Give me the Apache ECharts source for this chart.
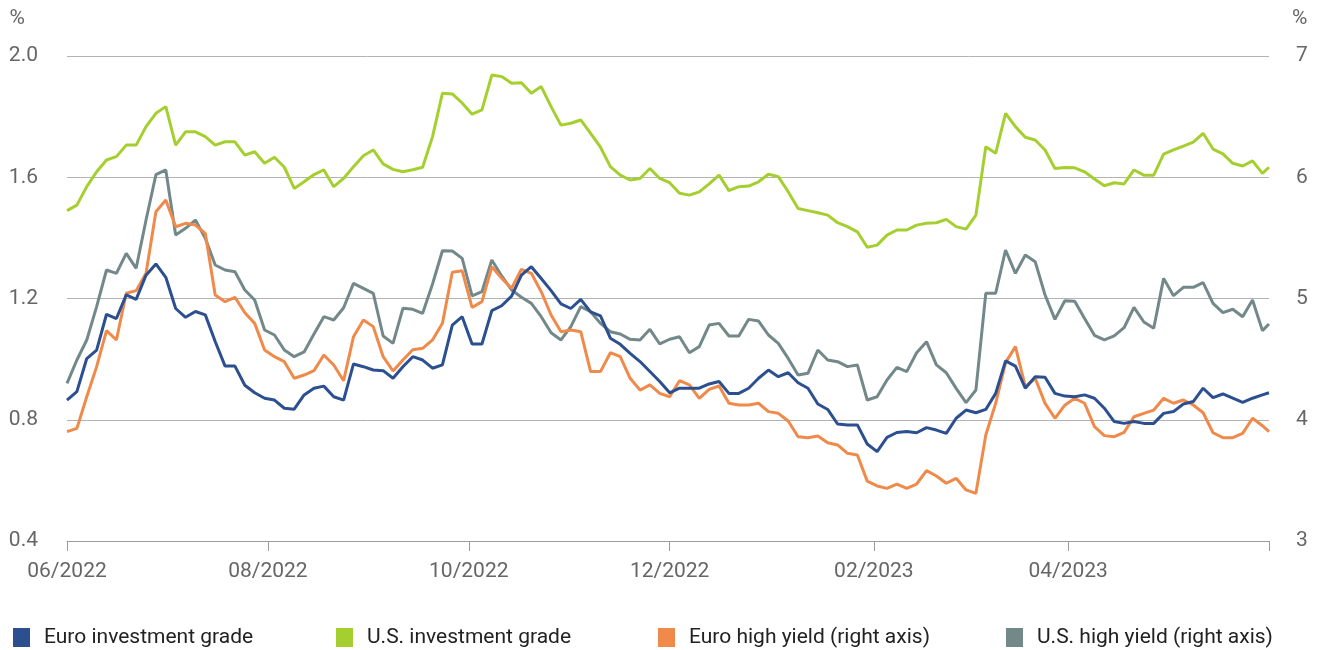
<!DOCTYPE html>
<html>
<head>
<meta charset="utf-8">
<title>Spreads</title>
<script src="https://cdn.jsdelivr.net/npm/echarts@6/dist/echarts.min.js"></script>
<style>
  *{
    margin: 0;
    padding: 0;
  }
  body{
    background: #fff;
  }
  #chart{
    width: 1318px;
    height: 650px;
  }
</style>
</head>
<body>
<div id="chart"></div>
<script>
  // series names (legend order)
  const names = ["Euro investment grade", "U.S. investment grade", "Euro high yield (right axis)", "U.S. high yield (right axis)"];

  // readings every 3 days from 06/01/2022, last one on 06/01/2023
  // left axis, %
  const euroIG = [0.865, 0.893, 1.002, 1.030, 1.148, 1.134, 1.212, 1.197, 1.277, 1.314, 1.270, 1.167, 1.138, 1.157, 1.146, 1.058, 0.977, 0.977, 0.914, 0.889, 0.871, 0.865,
    0.838, 0.835, 0.882, 0.904, 0.911, 0.876, 0.865, 0.984, 0.975, 0.964, 0.962, 0.937, 0.975, 1.008, 0.997, 0.970, 0.981, 1.112, 1.140, 1.050,
    1.050, 1.160, 1.176, 1.208, 1.277, 1.305, 1.266, 1.226, 1.182, 1.167, 1.197, 1.156, 1.143, 1.069, 1.049, 1.019, 0.992, 0.959, 0.926, 0.889,
    0.904, 0.904, 0.904, 0.918, 0.926, 0.887, 0.887, 0.904, 0.937, 0.964, 0.942, 0.955, 0.922, 0.904, 0.852, 0.834, 0.786, 0.783, 0.783, 0.720,
    0.695, 0.742, 0.758, 0.761, 0.757, 0.774, 0.766, 0.755, 0.805, 0.832, 0.823, 0.834, 0.887, 0.994, 0.977, 0.904, 0.942, 0.940, 0.887, 0.878, 0.876,
    0.882, 0.871, 0.838, 0.794, 0.788, 0.794, 0.788, 0.788, 0.821, 0.827, 0.852, 0.860, 0.904, 0.873, 0.885, 0.871, 0.857, 0.871, 0.882,
    0.889];
  const usIG = [1.490, 1.508, 1.569, 1.618, 1.657, 1.668, 1.706, 1.706, 1.767, 1.811, 1.833, 1.706, 1.750, 1.750, 1.734, 1.706, 1.717, 1.717, 1.673, 1.684, 1.646, 1.666,
    1.633, 1.563, 1.585, 1.609, 1.624, 1.569, 1.596, 1.635, 1.671, 1.690, 1.644, 1.626, 1.618, 1.625, 1.633, 1.734, 1.877, 1.875, 1.845, 1.808,
    1.822, 1.937, 1.932, 1.910, 1.912, 1.877, 1.899, 1.833, 1.772, 1.778, 1.789, 1.745, 1.699, 1.635, 1.607, 1.591, 1.596, 1.629, 1.596, 1.582,
    1.547, 1.541, 1.552, 1.578, 1.607, 1.556, 1.569, 1.571, 1.585, 1.610, 1.602, 1.552, 1.497, 1.490, 1.483, 1.475, 1.450, 1.437, 1.420, 1.369,
    1.376, 1.409, 1.426, 1.426, 1.442, 1.448, 1.450, 1.461, 1.437, 1.429, 1.475, 1.701, 1.679, 1.811, 1.767, 1.732, 1.723, 1.690, 1.629, 1.632, 1.631,
    1.618, 1.594, 1.572, 1.582, 1.578, 1.624, 1.607, 1.607, 1.676, 1.690, 1.703, 1.716, 1.745, 1.693, 1.677, 1.646, 1.637, 1.654, 1.613,
    1.633];
  // right axis, %
  const euroHY = [3.902, 3.929, 4.190, 4.438, 4.735, 4.658, 5.043, 5.065, 5.208, 5.716, 5.812, 5.592, 5.620, 5.606, 5.537, 5.029, 4.974, 5.010, 4.883, 4.795, 4.575, 4.520,
    4.479, 4.342, 4.369, 4.405, 4.534, 4.452, 4.322, 4.685, 4.823, 4.768, 4.520, 4.402, 4.493, 4.578, 4.589, 4.658, 4.795, 5.216, 5.228, 4.926,
    4.974, 5.262, 5.166, 5.084, 5.241, 5.208, 5.056, 4.864, 4.726, 4.740, 4.726, 4.397, 4.397, 4.553, 4.520, 4.342, 4.245, 4.287, 4.218, 4.190,
    4.322, 4.287, 4.177, 4.251, 4.278, 4.136, 4.122, 4.122, 4.136, 4.067, 4.053, 3.990, 3.860, 3.852, 3.866, 3.811, 3.792, 3.723, 3.709, 3.494,
    3.454, 3.434, 3.470, 3.434, 3.470, 3.580, 3.536, 3.476, 3.517, 3.421, 3.393, 3.874, 4.135, 4.471, 4.603, 4.273, 4.342, 4.135, 4.012, 4.120, 4.177,
    4.136, 3.943, 3.869, 3.860, 3.896, 4.025, 4.053, 4.080, 4.177, 4.136, 4.163, 4.122, 4.058, 3.893, 3.852, 3.852, 3.888, 4.012, 3.951,
    3.902];
  const usHY = [4.300, 4.493, 4.658, 4.933, 5.235, 5.207, 5.372, 5.249, 5.647, 6.021, 6.060, 5.524, 5.579, 5.647, 5.496, 5.276, 5.235, 5.221, 5.070, 4.988, 4.740, 4.699,
    4.575, 4.520, 4.559, 4.707, 4.850, 4.823, 4.924, 5.125, 5.084, 5.043, 4.691, 4.630, 4.919, 4.911, 4.878, 5.120, 5.394, 5.392, 5.331, 5.022,
    5.056, 5.318, 5.186, 5.070, 5.010, 4.960, 4.850, 4.718, 4.658, 4.768, 4.933, 4.891, 4.795, 4.726, 4.707, 4.663, 4.658, 4.746, 4.625, 4.664,
    4.685, 4.553, 4.603, 4.781, 4.795, 4.691, 4.691, 4.828, 4.814, 4.699, 4.630, 4.506, 4.369, 4.383, 4.575, 4.493, 4.479, 4.438, 4.452, 4.163,
    4.190, 4.328, 4.432, 4.397, 4.553, 4.644, 4.452, 4.388, 4.259, 4.141, 4.245, 5.043, 5.043, 5.400, 5.207, 5.359, 5.304, 5.029, 4.828, 4.981, 4.978,
    4.836, 4.696, 4.658, 4.691, 4.759, 4.927, 4.806, 4.754, 5.166, 5.023, 5.092, 5.092, 5.131, 4.960, 4.883, 4.911, 4.850, 4.988, 4.735,
    4.790];

  // tick months on the x axis (year, month index)
  const tickMonths = [[2022, 5], [2022, 7], [2022, 9], [2022, 11], [2023, 1], [2023, 3], [2023, 5]];
  const labelMonths = tickMonths.slice(0, 6);

  // x values: every 3 days, the last reading on 06/01/2023
  const dates = [];
  for (let i = 0; i < euroIG.length - 1; i++) {
    dates.push(new Date(2022, 5, 1 + 3 * i).getTime());
  }
  dates.push(new Date(2023, 5, 1).getTime());

  const toTime = m => new Date(m[0], m[1], 1).getTime();
  const pair = arr => arr.map((v, i) => [dates[i], v]);

  const colors = ["#2b4f8f", "#a5cf2f", "#ef8a4a", "#728889"];
  const legendLeft = [8, 331, 653, 1001];

  let chart = echarts.init(document.getElementById("chart"));

  chart.setOption({
    animation: false,
    textStyle: {
      fontFamily: "Roboto"
    },
    grid: {
      left: 67,
      right: 49,
      top: 56,
      bottom: 109
    },
    // one legend per item so each sits where it should
    legend: names.map((n, k) => ({
      data: [n],
      left: legendLeft[k],
      top: 622,
      icon: "rect",
      itemWidth: 17,
      itemHeight: 19,
      textStyle: {
        fontSize: 21,
        color: "#222",
        padding: [0, 0, 0, 9]
      }
    })),
    // timestamps on a value axis, so ticks can be put on chosen months
    xAxis: {
      type: "value",
      min: toTime(tickMonths[0]),
      max: toTime(tickMonths[tickMonths.length - 1]),
      axisLine: {
        lineStyle: { color: "#9c9c9c", width: 1 }
      },
      axisTick: {
        show: true,
        length: 10,
        customValues: tickMonths.map(toTime),
        lineStyle: { color: "#9c9c9c" }
      },
      axisLabel: {
        customValues: labelMonths.map(toTime),
        fontSize: 21,
        color: "#666",
        margin: 20,
        formatter: function (val) {
          const d = new Date(val);
          return String(d.getMonth() + 1).padStart(2, "0") + "/" + d.getFullYear();
        }
      },
      splitLine: { show: false }
    },
    yAxis: [
      {
        type: "value",
        position: "left",
        min: 0.4,
        max: 2.0,
        interval: 0.4,
        name: "%",
        nameLocation: "end",
        nameGap: 27,
        nameTextStyle: {
          fontSize: 21,
          color: "#666",
          align: "right",
          padding: [0, 42, 0, 0]
        },
        axisLine: { show: false },
        axisTick: { show: false },
        axisLabel: {
          fontSize: 21,
          color: "#666",
          margin: 29,
          formatter: v => v.toFixed(1)
        },
        splitLine: {
          lineStyle: { color: "#b3b3b3", width: 1 }
        }
      },
      {
        type: "value",
        position: "right",
        min: 3,
        max: 7,
        interval: 1,
        name: "%",
        nameLocation: "end",
        nameGap: 27,
        nameTextStyle: {
          fontSize: 21,
          color: "#666",
          align: "left",
          padding: [0, 0, 0, 23]
        },
        axisLine: { show: false },
        axisTick: { show: false },
        axisLabel: {
          fontSize: 21,
          color: "#666",
          margin: 27
        },
        splitLine: { show: false }
      }
    ],
    // drawn back to front: US HY, Euro HY, US IG, Euro IG
    series: [
      {
        name: names[3],
        type: "line",
        yAxisIndex: 1,
        showSymbol: false,
        color: colors[3],
        lineStyle: { width: 3 },
        data: pair(usHY)
      },
      {
        name: names[2],
        type: "line",
        yAxisIndex: 1,
        showSymbol: false,
        color: colors[2],
        lineStyle: { width: 3 },
        data: pair(euroHY)
      },
      {
        name: names[1],
        type: "line",
        yAxisIndex: 0,
        showSymbol: false,
        color: colors[1],
        lineStyle: { width: 3 },
        data: pair(usIG)
      },
      {
        name: names[0],
        type: "line",
        yAxisIndex: 0,
        showSymbol: false,
        color: colors[0],
        lineStyle: { width: 3 },
        data: pair(euroIG)
      }
    ]
  });
</script>
</body>
</html>
